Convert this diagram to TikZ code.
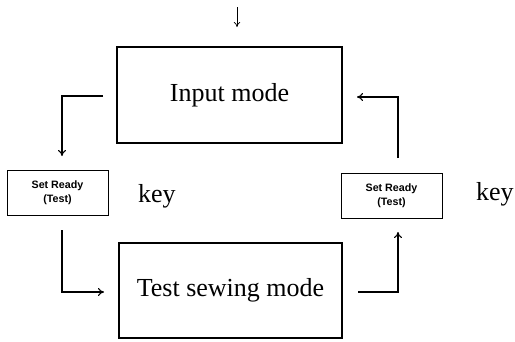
\documentclass[tikz,border=0pt]{standalone}
\usepackage{fontspec}
\setmainfont{Liberation Serif}
\newfontfamily\sansb{Liberation Sans}
\usetikzlibrary{arrows.meta}
\begin{document}
\begin{tikzpicture}[x=1pt,y=-1pt,
  bigbox/.style={draw, line width=1.1pt, inner sep=0pt, font=\fontsize{26}{30}\selectfont},
  keybox/.style={draw, line width=0.8pt, minimum width=101pt, minimum height=45pt, inner sep=0pt, align=center, font=\sansb\bfseries\fontsize{10.7}{14}\selectfont},
  keylbl/.style={font=\fontsize{26}{30}\selectfont, inner sep=0pt, anchor=base west},
  conn/.style={line width=1.1pt, -{To[length=6pt,width=8pt]}},
  entry/.style={line width=0.7pt, -{To[length=5pt,width=6.5pt]}}]
\useasboundingbox (0,0) rectangle (515,341);
\node[bigbox, minimum width=225pt, minimum height=96pt] (inp) at (229.5,95) {Input mode};
\node[bigbox, minimum width=223pt, minimum height=95pt] (tsm) at (230.5,290.5) {Test sewing mode};
\node[keybox] (kl) at (57.5,192.5) {Set Ready\\(Test)};
\node[keybox] (kr) at (391.5,195.5) {Set Ready\\(Test)};
\node[keylbl] (kll) at (138,202) {key};
\node[keylbl] (krl) at (476,200) {key};
% entry arrow
\coordinate (e0) at (237,7);
\coordinate (e1) at (237,27);
\draw[entry] (e0) -- (e1);
% connector ends
\coordinate (a0) at (103,96);
\coordinate (a1) at (62,156);
\coordinate (b0) at (62,230);
\coordinate (b1) at (104,292);
\coordinate (c0) at (358,292);
\coordinate (c1) at (398,232);
\coordinate (d0) at (398,158);
\coordinate (d1) at (357,97);
\draw[conn] (a0) -| (a1);
\draw[conn] (b0) |- (b1);
\draw[conn] (c0) -| (c1);
\draw[conn] (d0) |- (d1);
\end{tikzpicture}
\end{document}
